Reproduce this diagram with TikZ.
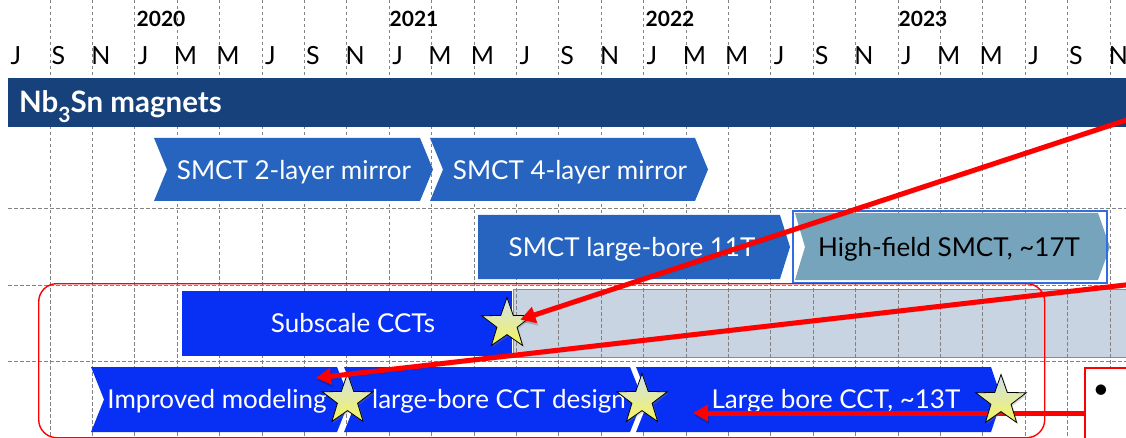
\documentclass[tikz,border=0pt]{standalone}
\usepackage{fontspec}
\setmainfont{Lato}
\usetikzlibrary{arrows.meta,shapes.geometric,calc,shadows}
\definecolor{bandblue}{RGB}{23,65,122}
\definecolor{midblue}{RGB}{38,100,192}
\definecolor{brightblue}{RGB}{8,48,245}
\definecolor{steel}{RGB}{118,164,188}
\definecolor{outlineblue}{RGB}{50,110,225}
\definecolor{futuregray}{RGB}{200,212,226}
\definecolor{futureedge}{RGB}{100,145,205}
\definecolor{startop}{RGB}{208,224,238}
\definecolor{starbot}{RGB}{245,245,90}
\definecolor{gridgray}{RGB}{130,130,130}
\tikzset{
  gridline/.style={draw=gridgray, dash pattern=on 3.5pt off 2.5pt, line width=0.7pt},
  month/.style={font=\fontsize{25}{30}\selectfont, anchor=base, inner sep=0},
  yearlbl/.style={font=\bfseries\fontsize{21}{25}\selectfont, anchor=base, inner sep=0},
  lbl/.style={font=\fontsize{26}{30}\selectfont, text=white, anchor=base, inner sep=0},
  darklbl/.style={lbl, text=black},
  starnode/.style={star, star points=5, star point ratio=2.5, minimum size=53pt,
    inner sep=0, draw=black, line width=0.8pt, top color=startop, bottom color=starbot,
    drop shadow={opacity=0.3, shadow xshift=1.5pt, shadow yshift=-1.5pt}},
  redarrow/.style={draw=red, line width=5pt, -{Triangle[length=15pt,width=16pt]},
    preaction={draw=black, opacity=0.18, transform canvas={xshift=1pt, yshift=-2.5pt}}},
  redframe/.style={draw=red, line width=1.4pt, rounded corners=18pt, inner sep=0},
  bar/.style={inner sep=0, anchor=north west},
}
\begin{document}
\begin{tikzpicture}[x=1pt,y=-1pt]
\useasboundingbox (0,0) rectangle (1126,438);
\begin{scope}
\clip (0,0) rectangle (1126,438);
\fill[white] (0,0) rectangle (1126,438);
% future (gray) bar
\node[bar, fill=futuregray, draw=futureedge, line width=0.8pt, minimum width=640pt, minimum height=68pt] (future) at (513,289) {};
% grid
\foreach \k in {0,...,25} \draw[gridline] ({50+42.4*\k},0) -- ({50+42.4*\k},438);
\foreach \yy in {208,285,361} \draw[gridline] (8,\yy) -- (1126,\yy);
% years
\node[yearlbl] (y2020) at (161,27) {2020};
\node[yearlbl] (y2021) at (414,27) {2021};
\node[yearlbl] (y2022) at (670,27) {2022};
\node[yearlbl] (y2023) at (923,27) {2023};
% months
\foreach \m [count=\i from 0] in {J,S,N,J,M,M,J,S,N,J,M,M,J,S,N,J,M,M,J,S,N,J,M,M,J,S,N}
  \node[month] (m\i) at ({16+42.4*\i},65) {\m};
% band
\node[bar, fill=bandblue, minimum width=1130pt, minimum height=49pt] (band) at (8,78) {};
\node[anchor=base west, inner sep=0, text=white, font=\bfseries\fontsize{29.5}{32}\selectfont] (title) at (19,113)
  {Nb\raisebox{-10pt}{\fontsize{21}{22}\selectfont 3}Sn magnets};
% row 1
\fill[midblue] (154,138) -- (420,138) -- (433,169.5) -- (420,201) -- (154,201) -- (167,169.5) -- cycle;
\fill[midblue] (430,138) -- (695,138) -- (708,169.5) -- (695,201) -- (430,201) -- (443,169.5) -- cycle;
\node[lbl] (smct2) at (294,180) {SMCT 2-layer mirror};
\node[lbl] (smct4) at (570,180) {SMCT 4-layer mirror};
% row 2
\fill[midblue] (478,215) -- (780,215) -- (790,247) -- (780,279) -- (478,279) -- cycle;
\node[lbl] (lb11) at (632,256) {SMCT large-bore 11T};
\fill[steel] (795,213) -- (1098,213) -- (1110,247) -- (1098,280) -- (795,280) -- (805,247) -- cycle;
\node[bar, draw=outlineblue, line width=2pt, minimum width=314pt, minimum height=72pt] (hfbox) at (792,210) {};
\node[darklbl] (hf) at (949,256) {High-field SMCT, \textasciitilde17T};
% row 3
\node[bar, fill=brightblue, minimum width=330pt, minimum height=65pt] (subbar) at (182,291) {};
\node[lbl] (sub) at (353,332) {Subscale CCTs};
% row 4
\fill[brightblue] (91,367) -- (337,367) -- (350,399.5) -- (337,432) -- (91,432) -- (104,399.5) -- cycle;
\fill[brightblue] (344,367) -- (630,367) -- (643,399.5) -- (630,432) -- (344,432) -- (357,399.5) -- cycle;
\fill[brightblue] (636,367) -- (991,367) -- (1002,399.5) -- (991,432) -- (636,432) -- (649,399.5) -- cycle;
\node[lbl] (model) at (217,408) {Improved modeling};
\node[lbl] (design) at (499,408) {large-bore CCT design};
\node[lbl] (lb13) at (836,408) {Large bore CCT, \textasciitilde13T};
% red frame
\node[bar, redframe, minimum width=1006pt, minimum height=154pt] (frame) at (38,283) {};
% right box
\node[bar, fill=white, draw=red, line width=2pt, minimum width=80pt, minimum height=100pt] (rbox) at (1084,367) {};
\node[inner sep=0, font=\fontsize{28}{30}\selectfont] (bul) at (1101,392) {\textbullet};
% arrow 3 (under star)
\coordinate (a3s) at ($(rbox.north west)+(0,46)$);
\coordinate (a3e) at (693,413);
\draw[redarrow] (a3s) -- (a3e);
% stars
\node[starnode] (s1) at (507,324) {};
\node[starnode] (s2) at (347.5,400) {};
\node[starnode] (s3) at (642,400) {};
\node[starnode] (s4) at (1001,401) {};
% arrows 1 and 2
\coordinate (a1s) at (1160,109);
\draw[redarrow, shorten >=14pt] (a1s) -- (s1.center);
\coordinate (a2s) at (1160,281);
\coordinate (a2e) at (316,378);
\draw[redarrow] (a2s) -- (a2e);
\end{scope}
\end{tikzpicture}
\end{document}
